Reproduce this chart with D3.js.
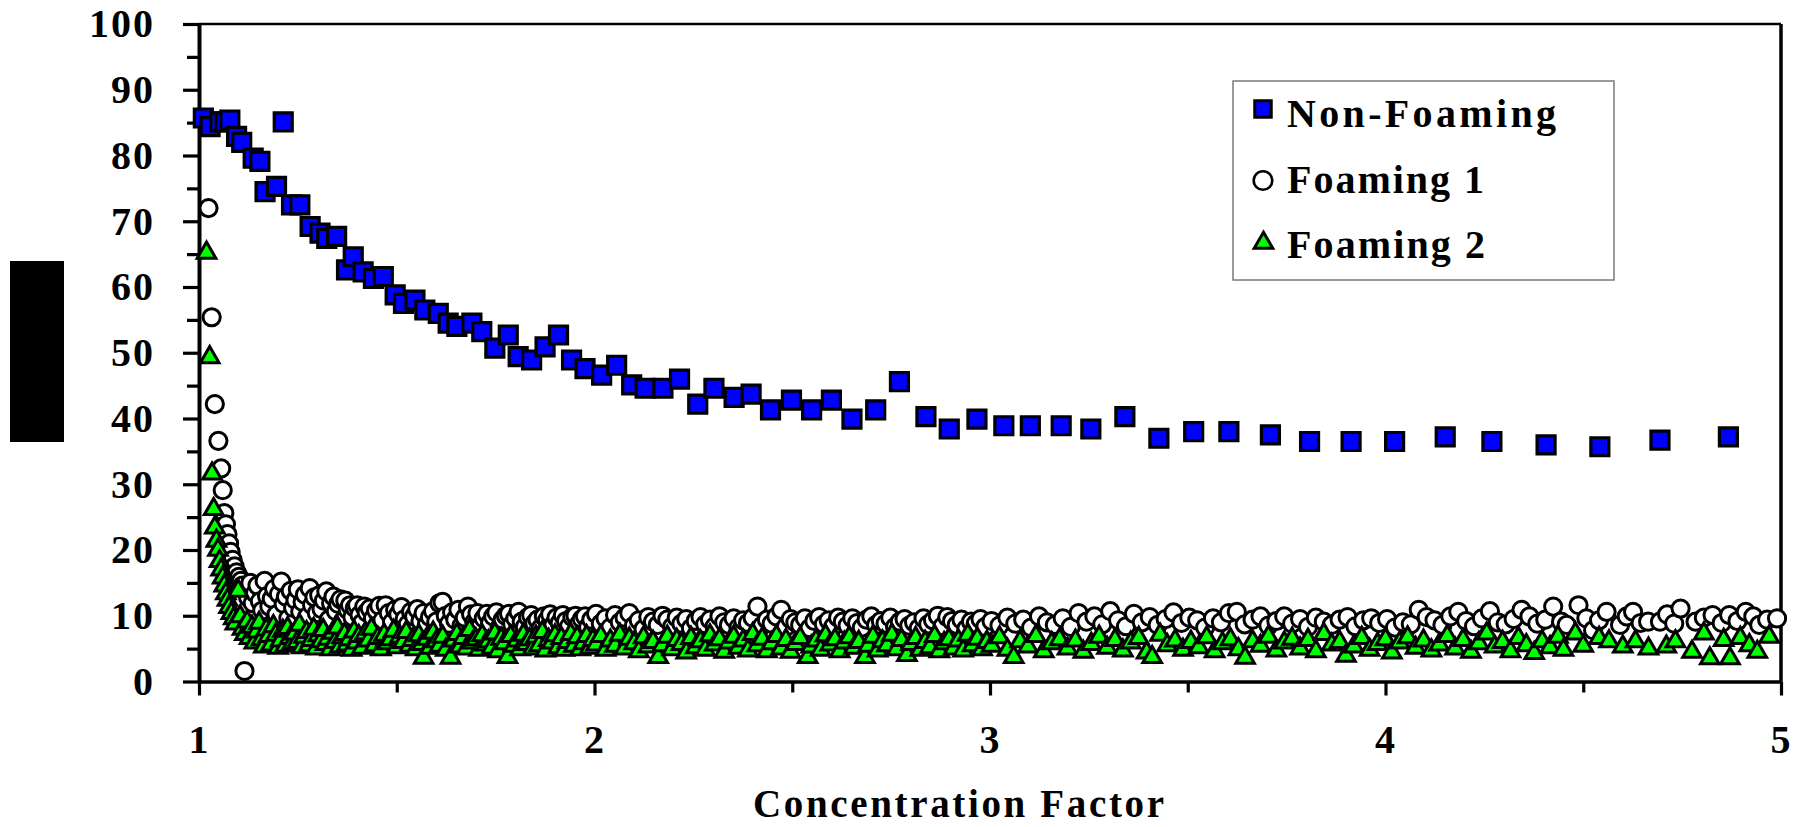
<!DOCTYPE html>
<html>
<head>
<meta charset="utf-8">
<script src="https://cdn.jsdelivr.net/npm/d3@7"></script>
<style>
  html, body { margin: 0; padding: 0; background: #fff; }
  svg { display: block; }
  text { font-family: "Liberation Serif", "Times New Roman", serif; font-weight: bold; fill: #000; }
</style>
</head>
<body>
<svg id="chart" width="1801" height="827"></svg>
<script>
// ---- data: [concentration factor, value] ----
const seriesNames = ["Non-Foaming", "Foaming 1", "Foaming 2"];

const nonFoaming = [
  [1.011,85.7],[1.028,84.4],[1.053,85.1],[1.066,85.1],[1.078,85.4],[1.095,82.9],[1.108,82.0],
  [1.137,79.6],[1.154,79.1],[1.167,74.5],[1.196,75.3],[1.213,85.1],[1.234,72.5],[1.255,72.5],
  [1.281,69.2],[1.306,68.2],[1.323,67.4],[1.348,67.7],[1.373,62.6],[1.390,64.6],[1.415,62.3],
  [1.441,61.3],[1.466,61.6],[1.496,58.8],[1.517,57.5],[1.546,58.0],[1.571,56.5],[1.605,56.0],
  [1.630,54.5],[1.652,54.0],[1.690,54.5],[1.715,53.2],[1.748,50.7],[1.782,52.7],[1.807,49.4],
  [1.841,48.9],[1.875,50.9],[1.909,52.7],[1.942,48.9],[1.976,47.6],[2.018,46.6],[2.056,48.1],
  [2.094,45.1],[2.128,44.6],[2.173,44.6],[2.215,46.0],[2.261,42.2],[2.302,44.6],[2.353,43.2],
  [2.396,43.7],[2.445,41.3],[2.498,42.8],[2.549,41.3],[2.599,42.8],[2.651,39.9],[2.711,41.3],
  [2.771,45.6],[2.838,40.3],[2.897,38.4],[2.967,39.9],[3.035,38.9],[3.102,38.9],[3.180,38.9],
  [3.255,38.4],[3.341,40.3],[3.427,37.0],[3.515,38.0],[3.604,38.0],[3.709,37.5],[3.808,36.5],
  [3.913,36.5],[4.023,36.5],[4.151,37.2],[4.269,36.5],[4.406,36.0],[4.542,35.7],[4.694,36.7],
  [4.867,37.2]
];

const foaming1 = [
  [1.024,72.0],[1.032,55.4],[1.040,42.2],[1.049,36.6],[1.056,32.4],[1.060,29.1],[1.064,25.6],
  [1.068,23.9],[1.072,22.4],[1.076,21.0],[1.080,19.7],[1.085,18.5],[1.090,17.5],[1.095,16.6],
  [1.101,15.9],[1.106,15.3],[1.110,14.6],[1.115,1.6],
  [1.118,13.9],[1.124,12.8],[1.130,15.0],[1.136,11.9],[1.142,13.4],[1.148,14.6],[1.154,12.2],
  [1.160,10.8],[1.166,15.3],[1.172,13.0],[1.178,11.4],[1.184,12.6],[1.190,14.1],[1.196,10.2],
  [1.202,13.3],[1.208,15.2],[1.214,11.8],[1.220,12.9],[1.226,9.6],[1.232,13.8],[1.238,11.2],
  [1.244,12.4],[1.250,14.0],[1.256,10.6],[1.262,12.1],[1.268,13.2],[1.274,9.9],[1.280,14.2],
  [1.286,11.6],[1.292,12.8],[1.298,10.4],[1.304,13.1],[1.310,11.0],[1.316,12.3],[1.322,13.7],
  [1.328,9.4],[1.334,11.9],[1.340,12.9],[1.346,10.7],[1.352,11.8],[1.358,12.5],[1.364,9.2],
  [1.370,12.3],[1.376,10.9],[1.382,11.6],[1.388,9.8],[1.394,11.2],[1.400,11.6],[1.406,10.1],
  [1.412,8.9],[1.418,11.4],[1.424,10.5],[1.432,11.1],[1.440,9.6],[1.448,10.8],[1.456,11.5],
  [1.464,9.3],[1.472,11.6],[1.480,10.4],[1.488,9.0],[1.496,10.9],
  [1.504,10.2],[1.512,11.3],[1.520,9.5],[1.528,8.7],[1.536,10.6],[1.544,9.9],[1.552,11.0],
  [1.560,9.2],[1.568,10.4],[1.576,8.6],[1.584,9.8],[1.592,10.7],[1.600,9.1],[1.608,11.9],
  [1.616,12.1],[1.624,10.0],[1.632,8.8],[1.640,10.5],[1.648,9.4],[1.656,10.9],[1.664,8.5],
  [1.672,9.7],[1.680,11.4],[1.688,10.2],[1.696,9.0],[1.704,10.4],[1.712,8.4],[1.720,9.6],
  [1.728,10.3],[1.736,8.9],[1.744,9.9],[1.752,10.5],[1.760,8.2],[1.768,9.4],[1.776,10.0],
  [1.784,10.3],[1.792,8.7],[1.800,9.6],[1.808,10.6],[1.816,9.1],[1.824,8.3],[1.832,9.8],
  [1.840,10.1],[1.848,8.8],[1.856,9.4],[1.864,8.1],[1.872,9.9],[1.880,9.3],[1.888,10.2],
  [1.896,8.6],[1.904,9.7],[1.912,8.9],[1.920,10.1],[1.928,9.2],[1.936,8.4],[1.944,9.8],
  [1.952,10.0],[1.960,8.7],[1.968,9.5],[1.976,9.9],[1.984,8.3],[1.992,9.4],
  [2.004,10.3],[2.016,8.8],[2.028,9.6],[2.040,8.2],[2.052,10.1],[2.064,9.0],[2.076,9.7],
  [2.088,10.4],[2.100,8.5],[2.112,9.3],[2.124,8.0],[2.136,9.8],[2.148,9.1],[2.160,8.6],
  [2.172,10.0],[2.184,9.4],[2.196,8.3],[2.208,9.7],[2.220,8.8],[2.232,9.5],[2.244,8.1],
  [2.256,9.2],[2.268,9.8],[2.280,8.7],[2.292,9.4],[2.304,8.4],[2.316,9.9],[2.328,9.0],
  [2.340,8.6],[2.352,9.6],[2.364,8.2],[2.376,9.3],[2.388,8.9],[2.400,9.7],[2.412,11.4],
  [2.424,8.5],[2.436,9.4],[2.448,8.8],[2.460,9.9],[2.472,10.9],[2.484,8.3],[2.496,9.5],
  [2.508,9.0],[2.520,8.6],[2.532,9.6],[2.544,8.1],[2.556,9.2],[2.568,9.8],[2.580,8.7],
  [2.592,9.3],[2.604,8.4],[2.616,9.7],[2.628,9.1],[2.640,8.5],[2.652,9.6],[2.664,8.9],
  [2.676,8.2],[2.688,9.4],[2.700,9.9],[2.712,8.6],[2.724,9.2],[2.736,8.8],[2.748,9.7],
  [2.760,8.3],[2.772,9.1],[2.784,9.5],[2.796,8.5],[2.808,9.0],[2.820,8.1],[2.832,9.6],
  [2.844,8.7],[2.856,9.3],[2.868,10.0],[2.880,8.4],[2.892,9.8],[2.904,9.2],[2.916,8.6],
  [2.928,9.4],[2.940,8.0],[2.952,9.1],[2.964,8.8],[2.976,9.5],[2.988,8.3],
  [3.004,9.2],[3.024,8.5],[3.044,9.7],[3.064,8.8],[3.084,9.4],[3.104,8.2],[3.124,9.9],
  [3.144,9.0],[3.164,8.6],[3.184,9.6],[3.204,8.3],[3.224,10.4],[3.244,9.1],[3.264,9.9],
  [3.284,8.7],[3.304,10.7],[3.324,9.3],[3.344,8.4],[3.364,10.3],[3.384,9.0],[3.404,9.8],
  [3.424,8.6],[3.444,9.5],[3.464,10.5],[3.484,8.9],[3.504,9.7],[3.524,9.3],[3.544,8.2],
  [3.564,9.6],[3.584,9.0],[3.604,10.4],[3.624,10.6],[3.644,8.7],[3.664,9.4],[3.684,9.9],
  [3.704,8.5],[3.724,9.2],[3.744,9.9],[3.764,8.8],[3.784,9.5],[3.804,8.3],[3.824,9.7],
  [3.844,9.1],[3.864,8.6],[3.884,9.4],[3.904,9.8],[3.924,8.4],[3.944,9.3],[3.964,9.6],
  [3.984,8.9],[4.004,9.5],[4.024,8.2],[4.044,9.0],[4.064,8.7],[4.084,10.9],[4.104,9.8],
  [4.124,9.3],[4.144,8.6],[4.164,9.9],[4.184,10.6],[4.204,9.2],[4.224,8.4],[4.244,9.6],
  [4.264,10.7],[4.284,9.0],[4.304,8.7],[4.324,9.5],[4.344,10.9],[4.364,9.9],[4.384,8.8],
  [4.404,9.4],[4.424,11.4],[4.444,9.1],[4.458,8.6],[4.488,11.6],[4.508,9.6],[4.525,7.8],
  [4.540,9.3],[4.559,10.6],[4.593,8.6],[4.610,9.9],[4.626,10.6],[4.645,8.9],[4.664,9.1],
  [4.694,9.1],[4.712,10.2],[4.730,8.8],[4.746,11.1],[4.784,9.1],[4.805,9.7],[4.827,10.1],
  [4.850,8.9],[4.869,10.1],[4.890,9.2],[4.911,10.6],[4.930,9.9],[4.945,8.6],[4.965,9.4],
  [4.990,9.6]
];

const foaming2 = [
  [1.019,65.2],[1.027,49.3],[1.033,31.6],[1.037,26.2],[1.040,23.4],[1.044,21.4],[1.048,20.0],
  [1.052,18.3],[1.056,17.0],[1.060,15.8],[1.064,14.6],[1.068,13.4],[1.072,12.4],[1.076,11.3],
  [1.082,10.4],[1.088,9.6],[1.092,8.8],[1.099,13.8],[1.104,9.9],[1.110,8.0],[1.116,7.2],
  [1.122,9.1],[1.128,6.6],[1.134,8.3],[1.140,5.9],[1.146,7.6],[1.152,8.9],[1.158,6.4],
  [1.164,5.3],[1.170,7.9],[1.176,6.9],[1.182,5.6],[1.188,8.4],[1.194,7.1],[1.200,5.1],
  [1.206,6.2],[1.212,7.7],[1.218,5.4],[1.224,8.1],[1.230,6.6],[1.236,5.8],[1.242,7.3],
  [1.248,6.0],[1.254,8.6],[1.260,5.2],[1.266,6.8],[1.272,7.5],[1.278,5.5],[1.284,6.3],
  [1.290,8.0],[1.296,5.0],[1.302,7.0],[1.308,6.1],[1.314,7.8],[1.320,5.7],[1.326,6.5],
  [1.332,4.9],[1.338,7.4],[1.344,6.0],[1.350,8.2],[1.356,5.3],[1.362,6.7],[1.368,7.2],
  [1.374,5.6],[1.380,6.4],[1.386,4.8],[1.392,7.6],[1.398,5.9],[1.404,6.9],[1.412,5.1],
  [1.420,7.3],[1.428,6.2],[1.436,8.0],[1.444,5.5],[1.452,6.6],[1.460,4.9],[1.468,7.1],
  [1.476,5.8],[1.484,6.4],[1.492,7.7],
  [1.500,5.2],[1.508,6.8],[1.516,6.0],[1.524,7.5],[1.532,5.4],[1.540,6.3],[1.548,4.9],
  [1.556,7.0],[1.564,5.7],[1.568,3.6],[1.576,6.5],[1.584,5.1],[1.592,7.4],[1.600,6.1],
  [1.608,5.4],[1.616,6.8],[1.624,4.8],[1.636,3.6],[1.644,6.2],[1.652,7.2],[1.660,5.3],
  [1.668,6.6],[1.676,5.0],[1.684,7.8],[1.692,5.9],[1.700,6.4],[1.708,4.8],[1.716,7.0],
  [1.724,5.6],[1.732,6.1],[1.740,5.1],[1.748,7.3],[1.756,4.6],[1.764,6.5],[1.772,5.8],
  [1.780,3.7],[1.788,6.9],[1.796,5.4],[1.804,6.2],[1.812,4.9],[1.820,7.1],[1.828,5.7],
  [1.836,6.4],[1.844,5.0],[1.852,6.8],[1.860,5.5],[1.868,7.5],[1.876,4.7],[1.884,6.3],
  [1.892,5.9],[1.900,7.0],[1.908,5.2],[1.916,6.6],[1.924,4.8],[1.932,6.0],[1.940,7.2],
  [1.948,5.4],[1.956,6.7],[1.964,4.9],[1.972,5.8],[1.980,6.9],[1.988,5.1],[1.996,6.3],
  [2.004,5.6],[2.016,6.9],[2.028,4.8],[2.040,6.2],[2.052,5.4],[2.064,7.1],[2.076,5.0],
  [2.088,6.5],[2.100,5.8],[2.112,4.6],[2.124,6.7],[2.136,5.3],[2.148,6.0],[2.161,3.7],
  [2.172,5.5],[2.184,6.8],[2.196,4.9],[2.208,6.3],[2.220,5.7],[2.232,4.4],[2.244,6.6],
  [2.256,5.2],[2.268,6.1],[2.280,4.8],[2.292,7.0],[2.304,5.6],[2.316,6.4],[2.328,4.5],
  [2.340,5.9],[2.352,6.8],[2.364,5.1],[2.376,6.2],[2.388,4.7],[2.400,7.2],[2.412,5.5],
  [2.424,6.5],[2.436,4.6],[2.448,5.8],[2.460,6.9],[2.472,5.0],[2.484,6.3],[2.496,4.5],
  [2.508,5.7],[2.520,6.6],[2.539,3.7],[2.548,5.3],[2.560,6.2],[2.572,4.8],[2.584,7.0],
  [2.596,5.6],[2.608,6.4],[2.620,4.6],[2.632,5.9],[2.644,6.7],[2.656,5.1],[2.668,6.0],
  [2.684,3.7],[2.692,5.4],[2.704,6.8],[2.716,4.7],[2.728,6.1],[2.740,5.5],[2.752,7.1],
  [2.764,4.9],[2.776,6.3],[2.790,4.0],[2.800,5.7],[2.812,6.6],[2.824,4.8],[2.836,6.0],
  [2.848,5.2],[2.860,6.9],[2.872,4.6],[2.884,5.8],[2.896,6.4],[2.908,5.0],[2.920,6.2],
  [2.932,4.7],[2.944,7.1],[2.956,5.5],[2.968,6.5],[2.980,4.9],[2.992,6.0],
  [3.004,5.4],[3.024,6.7],[3.044,4.8],[3.060,3.7],[3.076,6.1],[3.096,5.3],[3.116,6.9],
  [3.136,4.6],[3.156,5.8],[3.176,6.4],[3.196,5.0],[3.216,6.2],[3.236,4.5],[3.256,5.7],
  [3.276,6.8],[3.296,5.1],[3.316,6.3],[3.336,4.7],[3.356,5.9],[3.376,6.6],[3.396,4.4],
  [3.410,3.7],[3.430,7.1],[3.448,5.5],[3.468,6.2],[3.488,4.8],[3.508,6.0],[3.528,5.2],
  [3.548,6.7],[3.568,4.6],[3.588,5.8],[3.608,6.4],[3.628,4.9],[3.645,3.6],[3.664,6.1],
  [3.684,5.4],[3.704,6.8],[3.724,4.7],[3.744,5.9],[3.764,6.5],[3.784,5.0],[3.804,6.3],
  [3.824,4.6],[3.844,7.2],[3.864,5.6],[3.884,6.0],[3.900,3.9],[3.920,5.3],[3.940,6.6],
  [3.960,4.8],[3.980,5.7],[4.000,6.4],[4.016,4.4],[4.036,5.9],[4.056,6.7],[4.076,5.1],
  [4.096,6.2],[4.116,4.7],[4.136,5.6],[4.156,6.9],[4.176,5.0],[4.196,6.3],[4.216,4.5],
  [4.236,5.8],[4.256,7.3],[4.276,5.3],[4.296,6.0],[4.316,4.6],[4.336,6.6],[4.356,5.5],
  [4.376,4.3],[4.396,6.1],[4.416,5.2],[4.436,6.8],[4.450,4.8],[4.480,7.3],[4.500,5.4],
  [4.540,6.6],[4.565,6.1],[4.600,5.3],[4.632,6.1],[4.665,5.0],[4.710,5.3],[4.733,6.1],
  [4.775,4.5],[4.805,7.3],[4.820,3.5],[4.855,6.3],[4.871,3.5],[4.897,6.6],[4.920,5.5],
  [4.940,4.5],[4.970,6.8]
];

const xMajorTicks = [1, 2, 3, 4, 5];
const xMinorTicks = [1.5, 2.5, 3.5, 4.5];
const yMajorTicks = [0, 10, 20, 30, 40, 50, 60, 70, 80, 90, 100];
const yMinorTicks = [5, 15, 25, 35, 45, 55, 65, 75, 85, 95];
const xTitle = "Concentration Factor";

// ---- layout ----
const svg = d3.select("#chart");
const plot = { left: 199, right: 1781, top: 24, bottom: 681.5 };

const x = d3.scaleLinear().domain([1, 5]).range([plot.left, plot.right]);
const y = d3.scaleLinear().domain([0, 100]).range([plot.bottom, plot.top]);

// masked axis caption block on the left
svg.append("rect")
  .attr("x", 10).attr("y", 261).attr("width", 54).attr("height", 181)
  .attr("fill", "#000");

// frame: top and right edges
svg.append("line")
  .attr("x1", plot.left).attr("x2", plot.right)
  .attr("y1", y(100)).attr("y2", y(100))
  .attr("stroke", "#000").attr("stroke-width", 2.3);
svg.append("line")
  .attr("x1", x(5)).attr("x2", x(5))
  .attr("y1", plot.top).attr("y2", plot.bottom)
  .attr("stroke", "#000").attr("stroke-width", 3.5);

// ---- axes ----
function styleAxis(g, width) {
  g.attr("font-family", null).attr("font-size", null);
  g.select(".domain").attr("stroke", "#000").attr("stroke-width", width);
  g.selectAll(".tick line").attr("stroke", "#000").attr("stroke-width", 3.2);
  g.selectAll(".tick text").style("font-size", "40px").attr("letter-spacing", "2px");
}

const yAxisG = svg.append("g")
  .attr("transform", `translate(${plot.left},0)`)
  .call(d3.axisLeft(y).tickValues(yMajorTicks).tickSize(16).tickSizeOuter(0)
    .tickPadding(28).tickFormat(d3.format("d")));
styleAxis(yAxisG, 4);

svg.append("g")
  .attr("transform", `translate(${plot.left},0)`)
  .call(d3.axisLeft(y).tickValues(yMinorTicks).tickSize(12).tickSizeOuter(0).tickFormat(""))
  .call(g => { g.select(".domain").remove(); g.selectAll(".tick line").attr("stroke", "#000").attr("stroke-width", 3.2); });

const xAxisG = svg.append("g")
  .attr("transform", `translate(0,${plot.bottom})`)
  .call(d3.axisBottom(x).tickValues(xMajorTicks).tickSize(14).tickSizeOuter(0)
    .tickPadding(29).tickFormat(d3.format("d")));
styleAxis(xAxisG, 3.6);

svg.append("g")
  .attr("transform", `translate(0,${plot.bottom})`)
  .call(d3.axisBottom(x).tickValues(xMinorTicks).tickSize(11).tickSizeOuter(0).tickFormat(""))
  .call(g => { g.select(".domain").remove(); g.selectAll(".tick line").attr("stroke", "#000").attr("stroke-width", 3.2); });

// x axis title
svg.append("text")
  .attr("x", 753).attr("y", 817)
  .attr("textLength", 411).attr("lengthAdjust", "spacing")
  .style("font-size", "39px")
  .text(xTitle);

// ---- markers ----
const squareSym = d3.symbol().type(d3.symbolSquare).size(324);
const triSym = d3.symbol().type(d3.symbolTriangle).size(150);

svg.append("g").selectAll("path")
  .data(nonFoaming).join("path")
  .attr("d", squareSym)
  .attr("transform", d => `translate(${x(d[0])},${y(d[1])})`)
  .attr("fill", "#0000ff").attr("stroke", "#000").attr("stroke-width", 3.2);

svg.append("g").selectAll("circle")
  .data(foaming1).join("circle")
  .attr("cx", d => x(d[0])).attr("cy", d => y(d[1])).attr("r", 8.6)
  .attr("fill", "#fff").attr("stroke", "#000").attr("stroke-width", 3);

svg.append("g").selectAll("path")
  .data(foaming2).join("path")
  .attr("d", triSym)
  .attr("transform", d => `translate(${x(d[0])},${y(d[1])})`)
  .attr("fill", "#00ff00").attr("stroke", "#000").attr("stroke-width", 3)
  .attr("stroke-linejoin", "miter");

// ---- legend ----
const legend = svg.append("g");
legend.append("rect")
  .attr("x", 1233).attr("y", 81).attr("width", 381).attr("height", 199)
  .attr("fill", "#fff").attr("stroke", "#7a7a7a").attr("stroke-width", 1.5);

const legendRows = [
  { name: seriesNames[0], base: 127, width: 269, mark: "square" },
  { name: seriesNames[1], base: 193, width: 197, mark: "circle" },
  { name: seriesNames[2], base: 258, width: 198, mark: "triangle" }
];
const legendSquare = d3.symbol().type(d3.symbolSquare).size(272);
const legendTri = d3.symbol().type(d3.symbolTriangle).size(150);

legendRows.forEach(r => {
  const cy = r.base - 12;
  if (r.mark === "square") {
    legend.append("path").attr("d", legendSquare)
      .attr("transform", `translate(1263,${cy - 6})`)
      .attr("fill", "#0000ff").attr("stroke", "#000").attr("stroke-width", 3);
  } else if (r.mark === "circle") {
    legend.append("circle").attr("cx", 1263).attr("cy", cy - 0.5).attr("r", 9.3)
      .attr("fill", "#fff").attr("stroke", "#000").attr("stroke-width", 2.6);
  } else {
    legend.append("path").attr("d", legendTri)
      .attr("transform", `translate(1263.5,${cy - 3})`)
      .attr("fill", "#00ff00").attr("stroke", "#000").attr("stroke-width", 3);
  }
  legend.append("text")
    .attr("x", 1287).attr("y", r.base)
    .attr("textLength", r.width).attr("lengthAdjust", "spacing")
    .style("font-size", "40px")
    .text(r.name);
});
</script>
</body>
</html>
